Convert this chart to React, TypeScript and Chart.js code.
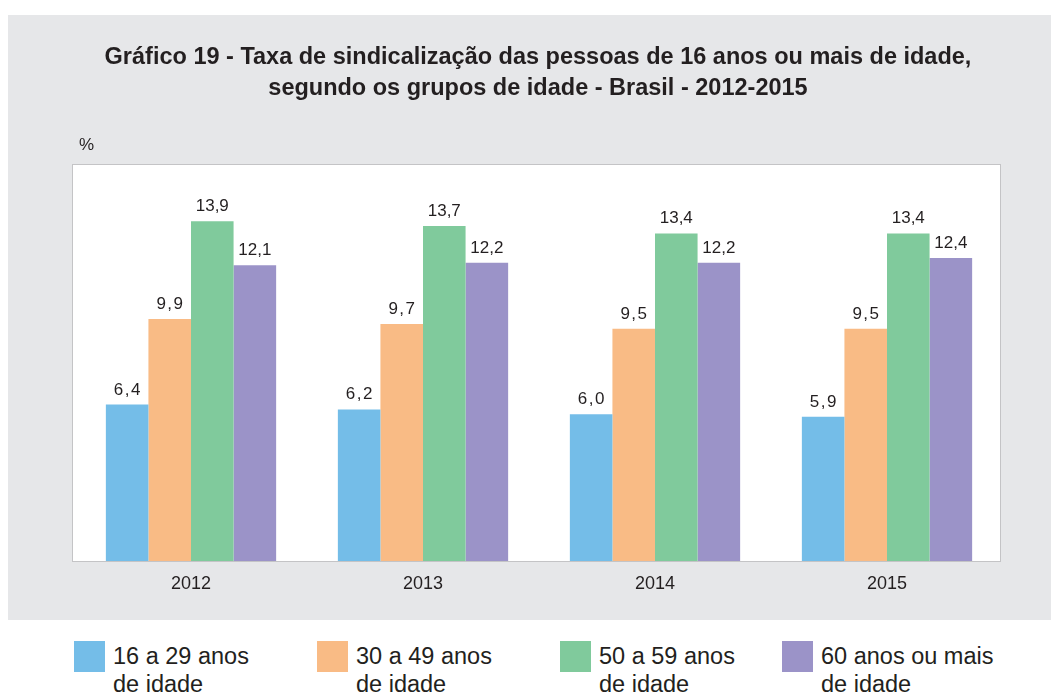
import React, { useEffect, useRef } from "react";
import { Chart, registerables } from "chart.js";

Chart.register(...registerables);

const titleLines = [
  "Gráfico 19 - Taxa de sindicalização das pessoas de 16 anos ou mais de idade,",
  "segundo os grupos de idade - Brasil - 2012-2015",
];
const unitLabel = "%";
const categories = ["2012", "2013", "2014", "2015"];
const group16to29 = [6.4, 6.2, 6.0, 5.9];
const group30to49 = [9.9, 9.7, 9.5, 9.5];
const group50to59 = [13.9, 13.7, 13.4, 13.4];
const group60plus = [12.1, 12.2, 12.2, 12.4];
const seriesLabels = [
  ["16 a 29 anos", "de idade"],
  ["30 a 49 anos", "de idade"],
  ["50 a 59 anos", "de idade"],
  ["60 anos ou mais", "de idade"],
];
const seriesColors = ["#74bde8", "#f9bb85", "#80ca9c", "#9b93c8"];

const FONT = "'Liberation Sans', Arial, Helvetica, sans-serif";
const TEXT = "#231f20";

const fmt = (v: number) => v.toFixed(1).replace(".", ",");

const plotBoxPlugin = {
  id: "plotBox",
  beforeDraw(chart: any) {
    const { ctx, chartArea } = chart;
    const left = Math.round(chartArea.left) - 2;
    const right = Math.round(chartArea.right) - 3;
    const top = Math.round(chartArea.top);
    const bottom = Math.round(chartArea.bottom);
    ctx.save();
    ctx.fillStyle = "#ffffff";
    ctx.fillRect(left, top, right - left, bottom - top);
    ctx.strokeStyle = "#c4c4c6";
    ctx.lineWidth = 1;
    ctx.strokeRect(left - 0.5, top - 0.5, right - left + 1, bottom - top + 1);
    ctx.restore();
  },
};

const valueLabelPlugin = {
  id: "valueLabels",
  afterDatasetsDraw(chart: any) {
    const { ctx } = chart;
    ctx.save();
    ctx.font = `17px ${FONT}`;
    ctx.fillStyle = TEXT;
    ctx.textAlign = "center";
    ctx.textBaseline = "alphabetic";
    chart.data.datasets.forEach((ds: any, i: number) => {
      const meta = chart.getDatasetMeta(i);
      (ctx as any).letterSpacing = i < 2 ? "1.5px" : "0px";
      meta.data.forEach((bar: any, j: number) => {
        ctx.fillText(fmt(ds.data[j]), bar.x + (i < 2 ? 0.75 : 0), bar.y - 10);
      });
    });
    ctx.restore();
  },
};

export default function App() {
  const canvasRef = useRef<HTMLCanvasElement | null>(null);

  useEffect(() => {
    if (!canvasRef.current) return;
    const seriesData = [group16to29, group30to49, group50to59, group60plus];
    const chart = new Chart(canvasRef.current, {
      type: "bar",
      data: {
        labels: categories,
        datasets: seriesData.map((d, i) => ({
          label: seriesLabels[i].join(" "),
          data: d,
          backgroundColor: seriesColors[i],
          borderWidth: 0,
          barPercentage: 1,
          categoryPercentage: 0.734,
        })),
      },
      options: {
        responsive: false,
        animation: false,
        events: [],
        layout: { padding: { left: 67, right: 48, top: 150, bottom: 0 } },
        plugins: {
          legend: { display: false },
          title: { display: false },
          tooltip: { enabled: false },
        },
        scales: {
          x: {
            grid: { display: false, drawTicks: false },
            border: { display: false },
            ticks: { color: TEXT, font: { family: FONT, size: 18 }, padding: 12 },
            afterFit: (scale: any) => {
              scale.height = 59;
            },
          },
          y: { display: false, min: 0, max: 16.2 },
        },
      },
      plugins: [plotBoxPlugin, valueLabelPlugin],
    });
    return () => chart.destroy();
  }, []);

  return (
    <div style={{ position: "absolute", left: 0, top: 0, width: "100%", height: 693, fontFamily: FONT, color: TEXT }}>
      <div style={{ position: "absolute", left: 8, top: 15, right: 0, height: 605, background: "#e6e7e9" }}>
        <canvas ref={canvasRef} width={1043} height={605} style={{ position: "absolute", left: 0, top: 0, width: 1043, height: 605 }} />
      </div>
      <div
        style={{
          position: "absolute",
          left: 538,
          top: 41,
          transform: "translateX(-50%)",
          whiteSpace: "nowrap",
          textAlign: "center",
          fontWeight: "bold",
          fontSize: 23.5,
          lineHeight: "31px",
        }}
      >
        {titleLines.map((l, i) => (
          <div key={i}>{l}</div>
        ))}
      </div>
      <div style={{ position: "absolute", left: 79, top: 135, fontSize: 17, lineHeight: "20px" }}>{unitLabel}</div>
      {seriesLabels.map((lines, i) => {
        const lefts = [74, 317, 560, 782];
        return (
          <div key={i} style={{ position: "absolute", left: lefts[i], top: 641 }}>
            <div style={{ position: "absolute", left: 0, top: 0, width: 31, height: 31, background: seriesColors[i] }} />
            <div style={{ position: "absolute", left: 39, top: 1, fontSize: 23.5, lineHeight: "28px", whiteSpace: "nowrap" }}>
              {lines.map((l, k) => (
                <div key={k}>{l}</div>
              ))}
            </div>
          </div>
        );
      })}
    </div>
  );
}
